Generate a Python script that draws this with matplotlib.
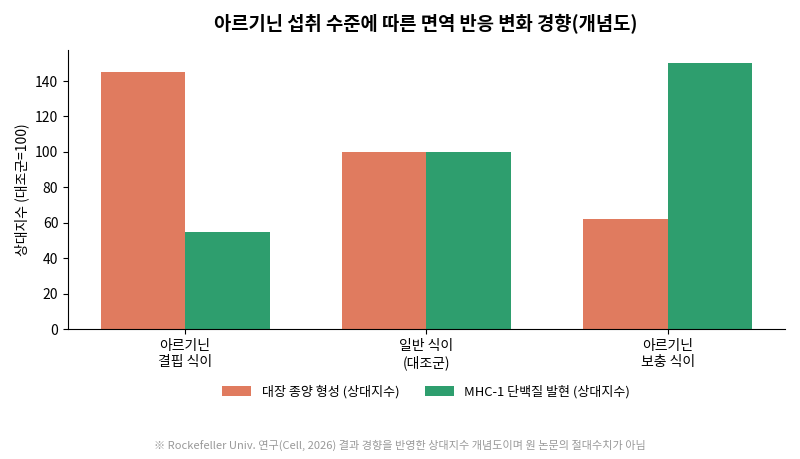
import matplotlib

matplotlib.use("Agg")
import matplotlib.pyplot as plt
import numpy as np

plt.rcParams["font.family"] = ["Noto Sans CJK KR", "DejaVu Sans"]

categories = ["아르기닌\n결핍 식이", "일반 식이\n(대조군)", "아르기닌\n보충 식이"]
tumor = [145, 100, 62]
mhc1 = [55, 100, 150]
series_names = ["대장 종양 형성 (상대지수)", "MHC-1 단백질 발현 (상대지수)"]
colors = ["#E07B5F", "#2E9E6E"]

x = np.arange(len(categories))
width = 0.35

fig = plt.figure(figsize=(8, 4.59), dpi=100)
ax = fig.add_axes([0.085, 0.283, 0.896, 0.608])

ax.bar(x - width / 2, tumor, width, color=colors[0], label=series_names[0])
ax.bar(x + width / 2, mhc1, width, color=colors[1], label=series_names[1])

ax.set_xticks(x)
ax.set_xticklabels(categories, fontsize=10)
ax.set_ylim(0, 157.5)
ax.set_yticks(range(0, 141, 20))
ax.tick_params(axis="y", labelsize=10)
ax.set_ylabel("상대지수 (대조군=100)", fontsize=10)
ax.spines["top"].set_visible(False)
ax.spines["right"].set_visible(False)

fig.text(0.532, 0.948, "아르기닌 섭취 수준에 따른 면역 반응 변화 경향(개념도)",
         ha="center", va="center", fontsize=13.5, fontweight="bold")

fig.legend(loc="center", bbox_to_anchor=(0.533, 0.147), ncol=2, frameon=False,
           fontsize=9.4, handlelength=2.2, handleheight=0.8, columnspacing=2.0)

fig.text(0.5, 0.017, "※ Rockefeller Univ. 연구(Cell, 2026) 결과 경향을 반영한 상대지수 개념도이며 원 논문의 절대수치가 아님",
         ha="center", va="bottom", fontsize=8, color="#999999")

fig.savefig("out.png", dpi=100)
